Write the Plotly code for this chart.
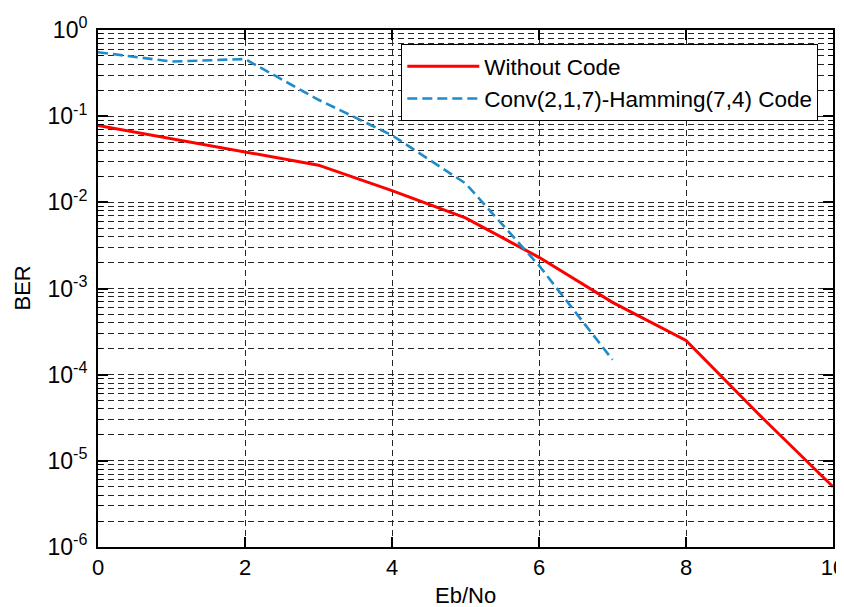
import plotly.graph_objects as go

# Data
ebno = [0, 1, 2, 3, 4, 5, 6, 7, 8, 9, 10]
ber_uncoded = [0.078, 0.0547, 0.038, 0.027, 0.0137, 0.0066, 0.0023, 6.9e-4, 2.5e-4, 3.4e-5, 5.0e-6]

ebno_coded = [0, 1, 2, 3, 4, 5, 6, 7]
ber_coded = [0.553, 0.43, 0.46, 0.155, 0.06, 0.0166, 1.85e-3, 1.49e-4]

x_ticks = [0, 2, 4, 6, 8, 10]
y_exponents = [-6, -5, -4, -3, -2, -1, 0]
y_tickvals = [10.0 ** e for e in y_exponents]
y_ticktext = ["10<sup>%d</sup>" % e for e in y_exponents]
y_minor = [m * 10.0 ** e for e in y_exponents[:-1] for m in range(2, 10)]

FONT = "Liberation Sans, Arial, sans-serif"

fig = go.Figure()
fig.add_trace(go.Scatter(
    x=ebno, y=ber_uncoded, mode="lines", name="Without Code",
    line=dict(color="#ff0000", width=3),
))
fig.add_trace(go.Scatter(
    x=ebno_coded, y=ber_coded, mode="lines", name="Conv(2,1,7)-Hamming(7,4) Code",
    line=dict(color="#1e8bcd", width=2.6, dash="10px,5px"),
))

grid_color = "#262626"
# note: the page body has an 8px margin, so the margins compensate for it
fig.update_layout(
    width=844, height=607,
    margin=dict(l=90, r=19, t=22, b=68),
    paper_bgcolor="white", plot_bgcolor="white",
    font=dict(family=FONT, size=22, color="black"),
    showlegend=True,
    legend=dict(
        x=0.980, y=0.9726, xanchor="right", yanchor="top",
        bgcolor="white", bordercolor="black", borderwidth=1,
        font=dict(family=FONT, size=22.5, color="black"),
        tracegroupgap=0, itemwidth=72,
    ),
    xaxis=dict(
        range=[0, 10], tickmode="array", tickvals=x_ticks, automargin=False,
        ticks="inside", ticklen=10, tickwidth=1.5, tickcolor="black",
        showline=True, linecolor="black", linewidth=2, mirror="allticks",
        showgrid=True, gridcolor=grid_color, gridwidth=1, griddash="6px,4px",
        zeroline=False,
        tickfont=dict(family=FONT, size=22),
    ),
    yaxis=dict(
        type="log", range=[-6, 0], tickmode="array", automargin=False,
        tickvals=y_tickvals, ticktext=y_ticktext, ticklabelstandoff=4,
        ticks="inside", ticklen=10, tickwidth=1.5, tickcolor="black",
        showline=True, linecolor="black", linewidth=2, mirror="allticks",
        showgrid=True, gridcolor=grid_color, gridwidth=1, griddash="6px,4px",
        zeroline=False,
        minor=dict(tickmode="array", tickvals=y_minor, ticks="inside", ticklen=5,
                   tickcolor="black", tickwidth=1,
                   showgrid=True, gridcolor=grid_color, gridwidth=1, griddash="6px,4px"),
        tickfont=dict(family=FONT, size=23),
    ),
    annotations=[
        dict(text="Eb/No", xref="paper", yref="paper", x=0.5, y=-0.0947,
             xanchor="center", yanchor="middle", showarrow=False,
             font=dict(family=FONT, size=22)),
        dict(text="BER", xref="paper", yref="paper", x=-0.1034, y=0.5,
             xanchor="center", yanchor="middle", showarrow=False, textangle=-90,
             font=dict(family=FONT, size=22)),
    ],
)

fig.write_html("out.html")
